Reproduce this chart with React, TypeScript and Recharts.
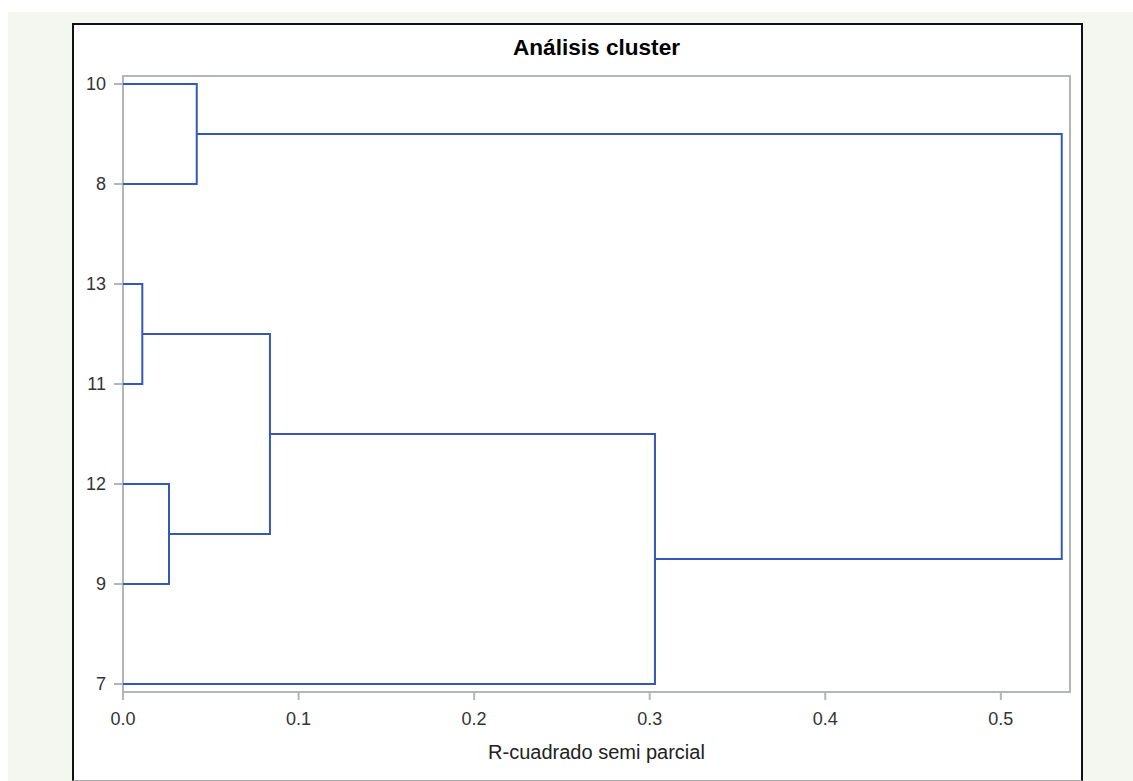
import React from 'react';
import { ComposedChart, Line, XAxis, YAxis, ReferenceArea } from 'recharts';

// Leaves of the dendrogram, from top to bottom
const leafLabels = ['10', '8', '13', '11', '12', '9', '7'];
// Merge steps: left child, right child, semi-partial R-squared at which they join
const mergeLeft = ['10', '13', '12', 'C2', 'C4', 'C1'];
const mergeRight = ['8', '11', '9', 'C3', '7', 'C5'];
const mergeHeights = [0.042, 0.011, 0.0262, 0.0837, 0.303, 0.5347];
const xTicks = [0, 0.1, 0.2, 0.3, 0.4, 0.5];
const xMax = 0.5394;
const yPad = 0.08;
const title = 'Análisis cluster';
const xLabel = 'R-cuadrado semi parcial';

type Pt = { x: number; y: number };

function buildSegments(): Pt[][] {
  const pos: Record<string, Pt> = {};
  leafLabels.forEach((l, i) => {
    pos[l] = { x: 0, y: leafLabels.length - 1 - i };
  });
  return mergeHeights.map((h, i) => {
    const a = pos[mergeLeft[i]];
    const b = pos[mergeRight[i]];
    pos['C' + (i + 1)] = { x: h, y: (a.y + b.y) / 2 };
    return [
      { x: a.x, y: a.y },
      { x: h, y: a.y },
      { x: h, y: b.y },
      { x: b.x, y: b.y },
    ];
  });
}

const segments = buildSegments();
const yTicks = leafLabels.map((_, i) => i);

const FONT = '"Liberation Sans", Arial, Helvetica, sans-serif';
const GRAY = '#b2b6ba';
const BLUE = '#3358b8';

export default function App() {
  return (
    <div
      style={{
        position: 'absolute',
        left: 8,
        top: 12,
        width: 1125,
        height: 769,
        background: '#f4f6f0',
        overflow: 'hidden',
        fontFamily: FONT,
      }}
    >
      <div
        style={{
          position: 'absolute',
          left: 64,
          top: 11,
          width: 1007,
          height: 755,
          background: '#ffffff',
          borderLeft: '2px solid #111',
          borderTop: '2px solid #111',
          borderRight: '2px solid #111',
          borderBottom: '1px solid #a8a8a8',
        }}
      >
        <div
          style={{
            position: 'absolute',
            left: 0,
            width: 1045,
            top: 12,
            textAlign: 'center',
            fontSize: 22.6,
            lineHeight: '22.6px',
            fontWeight: 'bold',
            color: '#000',
            whiteSpace: 'nowrap',
          }}
        >
          {title}
        </div>
        <ComposedChart
          width={1007}
          height={755}
          margin={{ top: 51, right: 11, bottom: 48, left: 9 }}
          style={{ fontFamily: FONT }}
        >
          <XAxis
            type="number"
            dataKey="x"
            domain={[0, xMax]}
            ticks={xTicks}
            allowDataOverflow
            tickFormatter={(v: number) => v.toFixed(1)}
            axisLine={false}
            tickLine={{ stroke: GRAY, strokeWidth: 2 }}
            tickSize={8}
            tickMargin={12}
            height={40}
            tick={{ fill: '#333', fontSize: 18 }}
          />
          <YAxis
            type="number"
            domain={[-yPad, leafLabels.length - 1 + yPad]}
            ticks={yTicks}
            allowDataOverflow
            tickFormatter={(v: number) => leafLabels[leafLabels.length - 1 - v]}
            axisLine={false}
            tickLine={{ stroke: GRAY, strokeWidth: 2 }}
            tickSize={9}
            tickMargin={8}
            width={40}
            tick={{ fill: '#333', fontSize: 18 }}
          />
          <ReferenceArea
            x1={0}
            x2={xMax}
            y1={-yPad}
            y2={leafLabels.length - 1 + yPad}
            fill="none"
            stroke={GRAY}
            strokeWidth={2}
            ifOverflow="visible"
          />
          {segments.map((seg, i) => (
            <Line
              key={i}
              data={seg}
              dataKey="y"
              type="linear"
              stroke={BLUE}
              strokeWidth={2}
              dot={false}
              activeDot={false}
              isAnimationActive={false}
            />
          ))}
        </ComposedChart>
        <div
          style={{
            position: 'absolute',
            left: 0,
            width: 1045,
            top: 717,
            textAlign: 'center',
            fontSize: 20,
            lineHeight: '20px',
            color: '#222',
            whiteSpace: 'nowrap',
          }}
        >
          {xLabel}
        </div>
      </div>
    </div>
  );
}
